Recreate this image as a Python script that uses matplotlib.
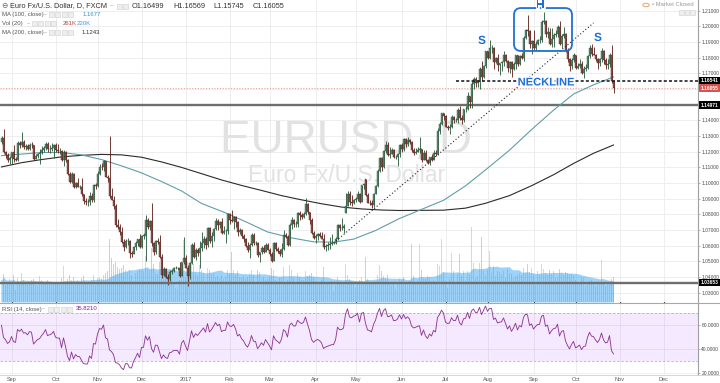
import numpy as np
import pandas as pd
import matplotlib
matplotlib.use("Agg")
import matplotlib.pyplot as plt
from matplotlib.patches import FancyBboxPatch, Rectangle, Circle
from matplotlib.transforms import blended_transform_factory, IdentityTransform
import matplotlib.patheffects as pe

plt.rcParams['font.family'] = ['Liberation Sans', 'DejaVu Sans']

# ---------------- data (EURUSD daily, FXCM; prices in pips above 1.0000) ----------------
opens = [1265,1288,1198,1180,1145,
 1157,1197,1155,1148,1255,1240,1260,1232,1235,1220,1245,1240,1155,1170,1185,1190,1210,1225,1250,1215,1220,1225,
 1240,1210,1205,1205,1150,1200,1145,1055,1005,1055,972,1000,975,975,930,885,880,880,920,895,985,
 980,1055,1105,1100,1140,1040,1030,915,895,855,730,720,690,625,590,630,630,555,550,590,615,645,
 590,665,660,765,720,755,615,560,630,625,530,415,450,400,385,435,440,455,455,455,410,495,
 520,460,405,490,605,530,575,555,585,615,645,605,715,630,660,705,760,730,750,680,695,695,
 800,765,760,785,750,685,700,660,640,600,575,605,670,615,615,540,560,585,560,605,
 575,545,505,620,580,565,545,580,670,655,605,735,765,740,740,810,795,785,800,865,815,765,680,
 650,665,675,665,645,590,600,605,610,615,615,640,730,715,715,810,855,930,880,875,
 895,900,930,880,985,1023,925,875,870,860,930,980,1075,1160,1100,1205,1245,1180,1185,1210,1165,1165,1185,
 1245,1215,1280,1250,1275,1260,1210,1195,1200,1210,1215,1150,1195,1150,1130,1165,1150,1195,1185,1335,1375,1445,
 1425,1360,1350,1355,1420,1400,1400,1465,1415,1400,1470,1475,1555,1515,1630,1665,1640,1645,1730,1680,1750,
 1840,1800,1860,1860,1775,1795,1755,1765,1770,1820,1780,1735,1770,1725,1760,1815,1760,1810,1800,1925,1975,1970,1885,
 1905,1860,1890,1915,1915,2025,2035,1950,1965,1885,1920,1945,1950,1995,1890,1940,1950,1845,1790,1745,1785,
 1815,1735,1745,1760,1705,1730,1735,1810,1860,1825,1820,1790,1765,1790,1845,1785,1755,1760,1815,1649.9]
highs = [1300,1342,1205,1194,1170,
 1201,1240,1165,1266,1270,1327,1275,1247,1252,1253,1264,1246,1187,1192,1215,1234,1236,1259,1259,1245,1258,1252,
 1255,1247,1226,1214,1210,1204,1151,1072,1068,1064,1008,1034,988,1035,933,902,899,940,935,994,1000,
 1077,1123,1125,1145,1142,1053,1300,966,918,865,772,739,718,646,641,650,635,568,600,631,645,672,
 668,680,795,780,763,875,626,634,651,670,547,466,460,419,445,450,463,468,466,496,499,655,
 538,480,496,616,621,585,587,630,685,660,653,720,720,689,712,774,770,760,775,726,705,812,
 810,830,793,790,760,714,705,674,648,622,617,679,679,633,627,562,600,602,617,615,
 584,562,627,627,594,581,615,699,679,667,745,783,768,757,818,820,807,816,906,875,818,776,691,
 678,680,688,689,677,611,623,653,678,625,655,738,738,778,737,937,950,949,925,898,
 910,951,936,989,1001,1023,934,891,889,934,990,1090,1166,1169,1213,1267,1264,1230,1225,1215,1176,1195,1250,
 1258,1285,1285,1296,1282,1270,1225,1222,1229,1295,1220,1210,1210,1155,1168,1187,1211,1208,1350,1387,1445,1446,
 1433,1369,1379,1436,1431,1418,1479,1489,1435,1474,1489,1583,1558,1650,1680,1677,1656,1740,1776,1751,1846,
 1846,1910,1880,1870,1805,1825,1769,1780,1845,1825,1788,1780,1780,1773,1820,1819,1820,1828,1940,1983,2070,1980,1910,
 1980,1905,1922,1937,2040,2092,2038,1995,1992,1990,1960,1975,2007,2034,1950,1998,1955,1860,1796,1795,1830,
 1820,1768,1790,1779,1749,1760,1820,1880,1890,1870,1823,1795,1799,1860,1850,1800,1790,1833,1880,1656.9]
lows = [1252,1189,1160,1133,1123,
 1123,1135,1138,1142,1226,1230,1220,1212,1208,1213,1223,1149,1154,1159,1120,1183,1200,1211,1200,1192,1205,1160,
 1200,1194,1185,1138,1106,1133,1049,1000,1003,967,966,972,960,915,869,859,852,861,882,878,961,
 978,1050,1083,1077,1036,1010,906,889,837,722,710,668,615,567,587,605,520,528,548,572,600,587,
 585,640,505,710,700,600,540,550,613,524,394,404,395,352,378,420,431,449,447,400,405,485,
 455,340,389,485,523,511,532,455,568,588,581,591,620,589,633,700,703,715,678,675,617,678,
 740,749,708,718,665,676,652,626,590,558,521,600,604,605,530,494,546,554,557,570,
 536,495,503,565,553,535,525,570,648,600,600,707,720,722,720,767,771,776,798,803,740,673,645,
 617,635,657,641,580,569,570,580,604,608,610,634,693,699,684,808,854,857,851,864,
 877,885,873,877,963,915,870,861,839,850,928,972,1070,1075,1099,1195,1170,1160,1183,1160,1155,1109,1165,
 1200,1205,1230,1236,1247,1196,1180,1185,1197,1194,1132,1145,1142,1120,1118,1138,1148,1174,1182,1313,1368,1403,
 1355,1339,1313,1350,1385,1390,1385,1405,1375,1389,1452,1468,1479,1479,1600,1612,1612,1603,1650,1669,1735,
 1790,1790,1833,1729,1765,1715,1687,1718,1750,1770,1710,1705,1680,1724,1731,1750,1753,1793,1780,1920,1940,1865,1823,
 1850,1850,1880,1893,1900,2012,1935,1923,1882,1870,1870,1930,1935,1880,1860,1925,1835,1775,1717,1731,1775,
 1727,1729,1737,1695,1668,1715,1727,1800,1810,1815,1776,1730,1750,1775,1760,1730,1730,1740,1640,1574.5]
closes = [1288,1198,1180,1145,1157,
 1197,1155,1148,1255,1240,1260,1232,1235,1220,1245,1240,1155,1170,1185,1190,1210,1225,1250,1215,1220,1225,1240,
 1210,1205,1205,1150,1200,1145,1055,1005,1055,972,1000,975,975,930,885,880,880,920,895,985,980,
 1055,1105,1100,1140,1040,1030,915,895,855,730,720,690,625,590,630,630,555,550,590,615,645,590,
 665,665,765,720,755,615,560,630,625,530,415,450,400,385,435,440,455,455,455,410,495,520,
 460,405,490,605,530,575,555,585,615,645,605,715,630,660,705,760,730,750,680,695,695,800,
 765,760,785,750,685,700,660,640,600,575,605,670,615,615,540,560,585,560,605,575,
 545,505,620,580,565,545,580,670,655,605,735,765,740,740,810,795,785,800,865,815,765,680,650,
 665,675,665,645,590,600,605,610,615,615,640,730,715,715,725,855,930,880,875,895,
 900,930,880,985,995,925,875,870,860,930,980,1075,1160,1100,1205,1245,1180,1185,1210,1165,1165,1185,1245,
 1215,1280,1250,1275,1260,1210,1195,1200,1210,1215,1150,1195,1150,1130,1165,1150,1195,1185,1335,1375,1445,1425,
 1360,1350,1355,1420,1400,1400,1465,1415,1400,1470,1475,1555,1515,1630,1665,1640,1645,1730,1680,1750,1840,
 1800,1860,1860,1775,1795,1755,1765,1770,1820,1780,1735,1770,1725,1760,1815,1760,1810,1800,1925,1975,1970,1885,1905,
 1860,1890,1915,1915,2025,2035,1950,1965,1885,1920,1945,1950,1995,1890,1940,1950,1845,1790,1745,1785,1815,
 1735,1745,1760,1705,1730,1735,1810,1860,1825,1820,1790,1765,1790,1845,1785,1755,1760,1815,1650,1605.5]
volumes_k = [230,290,180,210,240,
 220,280,120,250,200,300,230,190,210,220,230,240,180,170,270,230,200,190,230,200,190,210,
 190,200,210,250,370,220,240,280,230,260,190,220,200,250,270,210,200,190,230,280,180,
 250,260,240,280,300,320,660,460,400,420,360,340,350,380,330,310,330,280,220,300,320,340,
 330,320,480,340,330,560,400,300,290,420,450,330,300,320,260,240,200,150,140,230,260,640,
 260,420,330,460,390,300,280,380,330,300,200,350,330,290,300,260,270,250,280,240,260,330,
 300,520,330,280,320,260,250,270,240,260,300,330,280,200,330,310,240,260,230,240,
 260,350,330,230,220,250,260,360,210,230,380,330,250,190,300,260,230,230,320,270,280,300,260,
 220,210,200,230,360,190,200,210,220,110,180,260,200,190,210,400,280,240,220,200,
 150,200,230,260,210,470,240,200,190,210,200,280,380,320,270,250,280,200,180,210,140,210,240,
 230,260,190,210,220,600,270,190,220,600,330,250,240,270,260,220,230,220,400,370,650,310,
 220,150,240,510,320,210,290,500,270,320,220,320,290,780,410,250,270,410,680,320,280,
 330,530,310,370,270,320,310,290,320,250,340,300,290,250,270,280,300,280,350,300,400,310,350,
 280,180,320,290,400,340,300,280,330,290,320,250,260,340,300,280,310,300,290,300,280,
 230,210,190,260,250,170,200,220,230,200,170,190,200,440,210,170,180,210,240,261]
# closes of Jul/Aug 2016 before the first visible bar (warm-up for RSI 14)
pre_closes = [1135,1135,1070,1095,1060,1050,1055,1060,1090,1120,1040,1065,1020,1005,1025,975,995,995,1060,1070,1175,
 1165,1225,1150,1130,1085,1085,1115,1175,1135,1160,1180,1285,1290,1355,1325,1315,1305,1265]

month_labels = ['Sep', 'Oct', 'Nov', 'Dec', '2017', 'Feb', 'Mar', 'Apr', 'May', 'Jun',
                'Jul', 'Aug', 'Sep', 'Oct', 'Nov', 'Dec']
month_start_bar = [5, 27, 48, 70, 92, 114, 134, 157, 177, 200, 222, 243, 266, 287, 309, 331]

ma100_bar = [0, 10, 20, 30, 40, 50, 60, 70, 80, 90, 100, 113, 123, 133, 145, 156, 166, 176, 187, 199,
             210, 221, 232, 242, 254, 265, 276, 286, 296, 306]
ma100_val = [1.1175, 1.1185, 1.1195, 1.1195, 1.1180, 1.1150, 1.1110, 1.1065, 1.1010, 1.0950, 1.0870,
             1.0805, 1.0748, 1.0688, 1.0650, 1.0625, 1.0623, 1.0642, 1.0697, 1.0774, 1.0832, 1.0890,
             1.0982, 1.1084, 1.1210, 1.1341, 1.1465, 1.1568, 1.1627, 1.1677]
ma200_bar = [0, 10, 20, 30, 40, 50, 60, 70, 80, 90, 100, 110, 120, 130, 140, 150, 160, 170, 180, 190,
             199, 210, 221, 232, 242, 254, 265, 276, 286, 296, 306]
ma200_val = [1.1103, 1.1130, 1.1150, 1.1167, 1.1177, 1.1183, 1.1180, 1.1165, 1.1135, 1.1100, 1.1060,
             1.1020, 1.0985, 1.0953, 1.0920, 1.0893, 1.0868, 1.0847, 1.0835, 1.0828, 1.0825, 1.0826,
             1.0827, 1.0840, 1.0871, 1.0920, 1.0983, 1.1053, 1.1125, 1.1190, 1.1243]

neckline = 1.16541
neck_start_bar = 227
last_close = 1.16055
support_level = 1.14971
low_level = 1.03653
trend_bar = [166, 296]
trend_price = [1.0617, 1.2022]
hs_labels = ['S', 'H', 'S']
hs_bar = [240.25, 269.25, 298.25]
hs_price = [1.1907, 1.2136, 1.1926]
hbox_bar = [256.25, 285.25]
hbox_price = [1.2117, 1.1843]
neck_text_bar, neck_text_price = 272.25, 1.1642
# price-scale labels hidden behind the level boxes on the right
hidden_ticks = [1.15, 1.16]

# ---------------- figure layout (pixel based) ----------------
W, H = 720, 383
fig = plt.figure(figsize=(W / 100, H / 100), dpi=100)
fig.patch.set_facecolor('white')
PR = 698          # right edge of plot panes (px)
MAIN_B = 302      # bottom of price pane (px)
RSI_T, RSI_B = 303, 374

def FX(x): return x / W
def FY(y): return 1 - y / H

main_rect = [0, FY(MAIN_B), FX(PR), MAIN_B / H]
axg = fig.add_axes(main_rect)                   # grid + watermark
axv = fig.add_axes(main_rect, sharex=axg)       # volume overlay
ax = fig.add_axes(main_rect, sharex=axg)        # price
axr = fig.add_axes([0, FY(RSI_B), FX(PR), (RSI_B - RSI_T) / H], sharex=axg)

XL = (-0.75, 348.25)
PLIM = (1.02410, 1.21683)
for a in (axg, axv, ax, axr):
    a.set_xlim(*XL)
    for s in a.spines.values():
        s.set_visible(False)
for a in (axv, ax):
    a.patch.set_visible(False)
axg.set_ylim(*PLIM)
ax.set_ylim(*PLIM)
axv.set_ylim(0, 3140)
axr.set_ylim(18.9, 78.1)

GRID = '#ebebeb'
price_ticks = np.round(np.arange(1.03, 1.2101, 0.01), 2)
for p in price_ticks:
    axg.axhline(p, color=GRID, lw=0.6, zorder=0)
for m in month_start_bar:
    axg.axvline(m, color=GRID, lw=0.6, zorder=0)
    axr.axvline(m, color=GRID, lw=0.6, zorder=0)
for v in (20, 40, 60):
    axr.axhline(v, color=GRID, lw=0.6, zorder=0)

axg.set_xticks([]); axg.set_yticks([])
axv.set_xticks([]); axv.set_yticks([])

# watermark
axg.text(0.496, 1 - 153 / MAIN_B, 'EURUSD, D', transform=axg.transAxes, ha='center', va='baseline',
         fontsize=33, color='#e2e2e2', zorder=1)
axg.text(0.496, 1 - 182 / MAIN_B, 'Euro Fx/U.S. Dollar', transform=axg.transAxes, ha='center',
         va='baseline', fontsize=16.5, color='#e2e2e2', zorder=1)

# ---------------- series ----------------
o = 1 + np.array(opens, float) / 1e4
hi = 1 + np.array(highs, float) / 1e4
lo = 1 + np.array(lows, float) / 1e4
c = 1 + np.array(closes, float) / 1e4
vol = np.array(volumes_k, float)
n = len(c)
idx = np.arange(n)
up = c >= o

# volume
UPV, DNV = '#6ba583', '#d75442'
axv.bar(idx[up], vol[up], width=0.8, color=UPV, alpha=0.35, linewidth=0, zorder=1)
axv.bar(idx[~up], vol[~up], width=0.8, color=DNV, alpha=0.35, linewidth=0, zorder=1)
vol_ma = pd.Series(vol).rolling(20, min_periods=1).mean().values
axv.fill_between(idx, 0, vol_ma, color='#3fa9f5', alpha=0.5, linewidth=0, zorder=2)

# candles
UP_F, UP_E = '#6ba583', '#225437'
DN_F, DN_E = '#d75442', '#5b1a13'
ax.vlines(idx[up], lo[up], hi[up], color=UP_E, lw=0.6, zorder=4)
ax.vlines(idx[~up], lo[~up], hi[~up], color=DN_E, lw=0.6, zorder=4)
bb = np.minimum(o, c)
bh = np.maximum(np.abs(c - o), 0.00012)
ax.bar(idx[up], bh[up], bottom=bb[up], width=0.8, color=UP_F, edgecolor=UP_E, linewidth=0.3, zorder=5)
ax.bar(idx[~up], bh[~up], bottom=bb[~up], width=0.8, color=DN_F, edgecolor=DN_E, linewidth=0.3, zorder=5)

# moving averages
ax.plot(ma200_bar, ma200_val, color='#2b2b2b', lw=0.8, zorder=3)
ax.plot(ma100_bar, ma100_val, color='#5f9eaa', lw=0.8, zorder=3)

# horizontal levels
ax.axhline(last_close, color='#e6a3a3', lw=0.8, ls=(0, (1, 1.5)), zorder=2)
ax.axhline(support_level, color='#6e6e6e', lw=1.7, zorder=2)
ax.axhline(low_level, color='#6e6e6e', lw=1.7, zorder=6)
ax.hlines(neckline, neck_start_bar, XL[1], color='#111111', lw=1.1, ls=(0, (2, 1.4)), zorder=6)
ax.plot(trend_bar, trend_price, color='#222222', lw=0.8, ls=(0, (1, 2)), zorder=6)

# head & shoulders annotations
BLUE = '#1f6fd6'
halo = [pe.withStroke(linewidth=2, foreground='white')]
for t, b, p in zip(hs_labels, hs_bar, hs_price):
    ax.text(b, p, t, ha='center', va='center', fontsize=8.5, fontweight='bold', color=BLUE,
            path_effects=halo, zorder=8)
ax.text(neck_text_bar, neck_text_price, 'NECKLINE', ha='center', va='center', fontsize=8,
        fontweight='bold', color=BLUE, path_effects=halo, zorder=8)
(x0, y0), (x1, y1) = ax.transData.transform([(hbox_bar[0], hbox_price[1]), (hbox_bar[1], hbox_price[0])])
box = FancyBboxPatch((x0, y0), x1 - x0, y1 - y0, boxstyle='round,pad=0,rounding_size=7',
                     transform=IdentityTransform(), fc='none', ec=BLUE, lw=1.3, zorder=7)
ax.add_artist(box)

# price axis
shown_ticks = [p for p in price_ticks if not any(abs(p - h) < 1e-9 for h in hidden_ticks)]
ax.yaxis.tick_right()
ax.set_yticks(shown_ticks)
ax.set_yticklabels(['%.5f' % p for p in shown_ticks])
ax.tick_params(axis='y', labelsize=3.5, pad=1.2, length=1.2, width=0.5, colors='#9a9a9a', labelcolor='#4a4a4a')
ax.tick_params(axis='x', bottom=False, labelbottom=False)
tr = blended_transform_factory(ax.transAxes, ax.transData)
for val, bg in ((neckline, '#000000'), (last_close, '#d9534f'), (support_level, '#000000'), (low_level, '#000000')):
    ax.text(1.0035, val, '%.5f' % val, transform=tr, ha='left', va='center', fontsize=3.5,
            fontweight='bold', color='white', clip_on=False, zorder=10,
            bbox=dict(boxstyle='square,pad=0.3', fc=bg, ec='none'))

# ---------------- RSI ----------------
allc = np.concatenate([1 + np.array(pre_closes, float) / 1e4, c])
d = np.diff(allc)
g = np.clip(d, 0, None)
l = np.clip(-d, 0, None)
N = 14
ag = np.full_like(d, np.nan)
al = np.full_like(d, np.nan)
ag[N - 1] = g[:N].mean()
al[N - 1] = l[:N].mean()
for i in range(N, len(d)):
    ag[i] = (ag[i - 1] * (N - 1) + g[i]) / N
    al[i] = (al[i - 1] * (N - 1) + l[i]) / N
rsi_all = np.concatenate([[np.nan], 100 - 100 / (1 + ag / al)])
rsi = rsi_all[len(pre_closes):]

axr.axhspan(30, 70, color='#9915ff', alpha=0.09, lw=0, zorder=0.5)
axr.axhline(70, color='#c7a6cf', lw=0.6, ls=(0, (3, 2)), zorder=1)
axr.axhline(30, color='#c7a6cf', lw=0.6, ls=(0, (3, 2)), zorder=1)
axr.plot(idx, rsi, color='#8e3a96', lw=0.65, zorder=3)
axr.yaxis.tick_right()
axr.set_yticks([20, 40, 60])
axr.set_yticklabels(['20.0000', '40.0000', '60.0000'])
axr.tick_params(axis='y', labelsize=3.5, pad=1.2, length=1.2, width=0.5, colors='#9a9a9a', labelcolor='#4a4a4a')
axr.set_xticks(month_start_bar)
axr.set_xticklabels(month_labels)
axr.tick_params(axis='x', labelsize=4.0, pad=2.0, length=0, labelcolor='#555555')

# ---------------- frame lines ----------------
def hline_px(y, x0, x1, color, lw):
    fig.add_artist(plt.Line2D([FX(x0), FX(x1)], [FY(y), FY(y)], transform=fig.transFigure, color=color, lw=lw))

def vline_px(x, y0, y1, color, lw):
    fig.add_artist(plt.Line2D([FX(x), FX(x)], [FY(y0), FY(y1)], transform=fig.transFigure, color=color, lw=lw))

vline_px(PR + 0.3, 0, RSI_B + 1, '#a0a0a0', 0.8)
hline_px(MAIN_B + 0.5, 0, W, '#a8a8a8', 0.8)
hline_px(RSI_B + 0.5, 0, W, '#d0d0d0', 0.6)

# ---------------- legends ----------------
def icon_boxes(x0, y, k, step=6.4, size=5.0):
    for j in range(k):
        fig.add_artist(Rectangle((FX(x0 + j * step), FY(y + size / 2)), size / W, size / H,
                                 transform=fig.transFigure, fc='#eeeeee', ec='#d0d0d0', lw=0.4))

fig.text(FX(1), FY(6), '\u2296', fontsize=5.5, color='#666666', va='center', ha='left', family='DejaVu Sans')
fig.text(FX(10), FY(6), 'Euro Fx/U.S. Dollar, D, FXCM', fontsize=5.3, color='#333333', va='center')
fig.text(FX(110), FY(6), '\u2013', fontsize=4.5, color='#999999', va='center')
icon_boxes(117, 6, 2)
for lab, xx in zip(['O1.16499', 'H1.16569', 'L1.15745', 'C1.16055'], [132, 173, 213, 253]):
    fig.text(FX(xx), FY(6), lab, fontsize=5.3, color='#333333', va='center')

legend_rows = [
    (14.5, 'MA (100, close)', 44, 49, 4, [('1.1677', 83, '#3f8fc4')]),
    (23.5, 'Vol (20)', 27, 32, 4, [('261K', 63, '#b0463c'), ('220K', 77, '#3d9ae0')]),
    (32.5, 'MA (200, close)', 44, 49, 4, [('1.1243', 82, '#333333')]),
]
for yy, name, dash_x, ix, k, vals in legend_rows:
    fig.text(FX(2), FY(yy), name, fontsize=4.3, color='#555555', va='center')
    fig.text(FX(dash_x), FY(yy), '\u2013', fontsize=4, color='#999999', va='center')
    icon_boxes(ix, yy, k)
    for txt, xx, col in vals:
        fig.text(FX(xx), FY(yy), txt, fontsize=4.3, color=col, va='center')

# RSI legend
fig.text(FX(2), FY(309), 'RSI (14, close)', fontsize=4.3, color='#555555', va='center')
fig.text(FX(42.5), FY(309), '\u2013', fontsize=4, color='#999999', va='center')
icon_boxes(48, 309, 4)
fig.text(FX(76), FY(309), '%.4f' % 35.8210, fontsize=4.3, color='#8e1599', va='center')

# market status (top right)
fig.add_artist(Circle((FX(646), FY(5)), 3.2 / W, transform=fig.transFigure, fc='none', ec='#f0a060', lw=0.7))
fig.text(FX(651.5), FY(5), '\u2022 Market Closed', fontsize=4.2, color='#999999', va='center')
icon_boxes(679, 12.5, 3, step=5.5, size=4.5)

fig.savefig('out.png', dpi=100, facecolor='white')
